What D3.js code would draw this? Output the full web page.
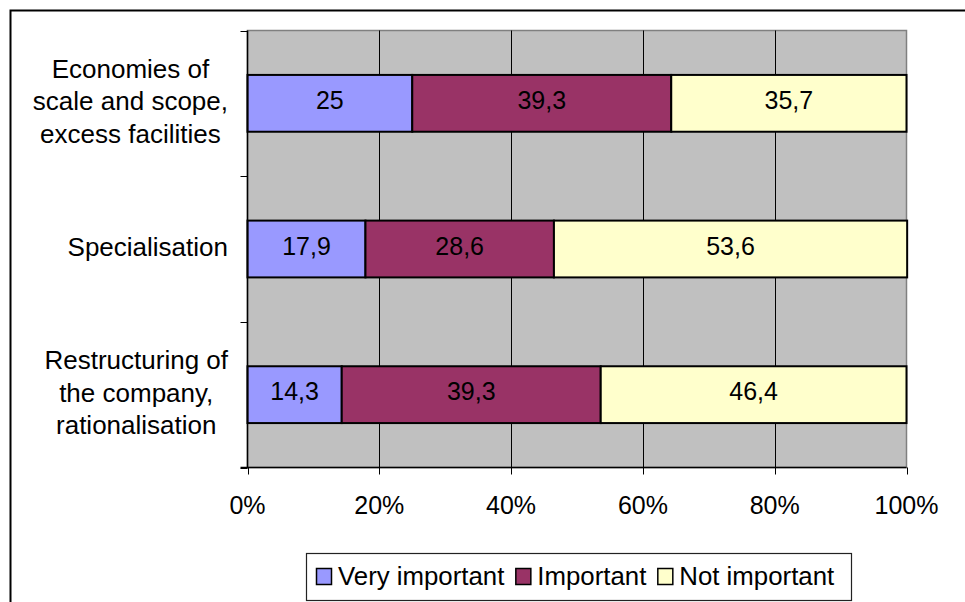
<!DOCTYPE html>
<html>
<head>
<meta charset="utf-8">
<script src="https://cdn.jsdelivr.net/npm/d3@7/dist/d3.min.js"></script>
<style>
  html, body { margin: 0; padding: 0; background: #fff; }
  svg text { font-family: "Liberation Sans", Arial, sans-serif; }
</style>
</head>
<body>
<svg id="chart" width="965" height="602"></svg>
<script>
// Motives for cooperation, share of answers (%)
const categories = [
  ["Economies of", "scale and scope,", "excess facilities"],
  ["Specialisation"],
  ["Restructuring of", "the company,", "rationalisation"]
];
const seriesNames = ["Very important", "Important", "Not important"];
const veryImportant = [25, 17.9, 14.3];
const important = [39.3, 28.6, 39.3];
const notImportant = [35.7, 53.6, 46.4];
const tickValues = [0, 20, 40, 60, 80, 100];
const colors = ["#9999FF", "#993366", "#FFFFCC"];

const svg = d3.select("#chart");
const plot = { left: 247.5, right: 906.5, top: 30.5, bottom: 467.5 };
const fs = 25;

// outer frame of the chart
svg.append("rect")
  .attr("x", 10.5).attr("y", 10.5)
  .attr("width", 980).attr("height", 620)
  .attr("fill", "#fff").attr("stroke", "#000").attr("stroke-width", 2);

const x = d3.scaleLinear().domain([0, 100]).range([plot.left, plot.right]);
const y = d3.scaleBand().domain(d3.range(categories.length))
  .range([plot.top, plot.bottom]).paddingInner(0.61).paddingOuter(0.305);
const yOuter = d3.scaleBand().domain(d3.range(categories.length))
  .range([plot.top, plot.bottom]);

// plot background
svg.append("rect")
  .attr("x", plot.left).attr("y", plot.top)
  .attr("width", plot.right - plot.left).attr("height", plot.bottom - plot.top)
  .attr("fill", "#C0C0C0").attr("stroke", "#808080").attr("stroke-width", 1.5);

// vertical gridlines
svg.append("g").selectAll("line")
  .data(tickValues.slice(1, -1))
  .join("line")
  .attr("x1", d => Math.round(x(d)) + 0.5).attr("x2", d => Math.round(x(d)) + 0.5)
  .attr("y1", plot.top).attr("y2", plot.bottom)
  .attr("stroke", "#000").attr("stroke-width", 1);

// stacked bars
const rows = categories.map((c, i) => ({ i, values: [veryImportant[i], important[i], notImportant[i]] }));
const stacked = d3.stack().keys([0, 1, 2]).value((d, k) => d.values[k])(rows);

const layers = svg.append("g").selectAll("g")
  .data(stacked)
  .join("g")
  .attr("fill", (d, k) => colors[k]);

layers.selectAll("rect")
  .data(d => d)
  .join("rect")
  .attr("x", d => x(d[0]))
  .attr("y", d => y(d.data.i))
  .attr("width", d => x(d[1]) - x(d[0]))
  .attr("height", y.bandwidth())
  .attr("stroke", "#000").attr("stroke-width", 2);

// value labels
layers.selectAll("text")
  .data(d => d)
  .join("text")
  .attr("x", d => (x(d[0]) + x(d[1])) / 2)
  .attr("y", d => y(d.data.i) + y.bandwidth() / 2 + 5.5)
  .attr("text-anchor", "middle")
  .attr("fill", "#000")
  .attr("font-size", fs)
  .text(d => String(+(d[1] - d[0]).toFixed(1)).replace(".", ","));

// y axis line and ticks at category boundaries
const yAxis = svg.append("g");
yAxis.append("line")
  .attr("x1", plot.left).attr("x2", plot.left)
  .attr("y1", plot.top).attr("y2", plot.bottom)
  .attr("stroke", "#000").attr("stroke-width", 1.5);
yAxis.selectAll("line.tick")
  .data(d3.range(categories.length + 1))
  .join("line").attr("class", "tick")
  .attr("x1", plot.left - 7).attr("x2", plot.left)
  .attr("y1", d => Math.round(plot.top + d * yOuter.step()) + 0.5)
  .attr("y2", d => Math.round(plot.top + d * yOuter.step()) + 0.5)
  .attr("stroke", "#000");

// category labels: block right-aligned to the axis, lines centred in the block
categories.forEach((lines, i) => {
  const g = svg.append("g");
  const lh = 32.5;
  const cy = yOuter(i) + yOuter.bandwidth() / 2 - 2.5;
  const texts = g.selectAll("text").data(lines).join("text")
    .attr("font-size", 26).attr("fill", "#000")
    .attr("text-anchor", "middle")
    .attr("y", (d, j) => cy + (j - (lines.length - 1) / 2) * lh)
    .attr("dy", "0.36em")
    .text(d => d);
  let maxW = 0;
  texts.each(function () { maxW = Math.max(maxW, this.getComputedTextLength()); });
  const right = 228;
  texts.attr("x", right - maxW / 2);
});

// x axis
const xAxis = svg.append("g").attr("transform", `translate(0,${plot.bottom})`);
xAxis.append("line")
  .attr("x1", plot.left - 7).attr("x2", plot.right)
  .attr("stroke", "#000").attr("stroke-width", 1.5);
xAxis.selectAll("line.tick").data(tickValues).join("line").attr("class", "tick")
  .attr("x1", d => Math.round(x(d)) + 0.5).attr("x2", d => Math.round(x(d)) + 0.5)
  .attr("y1", 0).attr("y2", 7)
  .attr("stroke", "#000");
xAxis.selectAll("text").data(tickValues).join("text")
  .attr("x", d => x(d)).attr("y", 46.5)
  .attr("text-anchor", "middle").attr("font-size", fs)
  .text(d => d + "%");

// legend
const legend = svg.append("g");
legend.append("rect")
  .attr("x", 306.5).attr("y", 553.5).attr("width", 545).attr("height", 47)
  .attr("fill", "#fff").attr("stroke", "#222").attr("stroke-width", 1.2);
let lx = 316;
seriesNames.forEach((name, k) => {
  const it = legend.append("g").attr("transform", `translate(${lx},0)`);
  it.append("rect").attr("x", 0.5).attr("y", 568.5).attr("width", 15).attr("height", 16)
    .attr("fill", colors[k]).attr("stroke", "#000").attr("stroke-width", 1.5);
  const t = it.append("text").attr("x", 22).attr("y", 585)
    .attr("font-size", 25.8).text(name);
  lx += 22 + t.node().getComputedTextLength() + 11;
});
</script>
</body>
</html>
